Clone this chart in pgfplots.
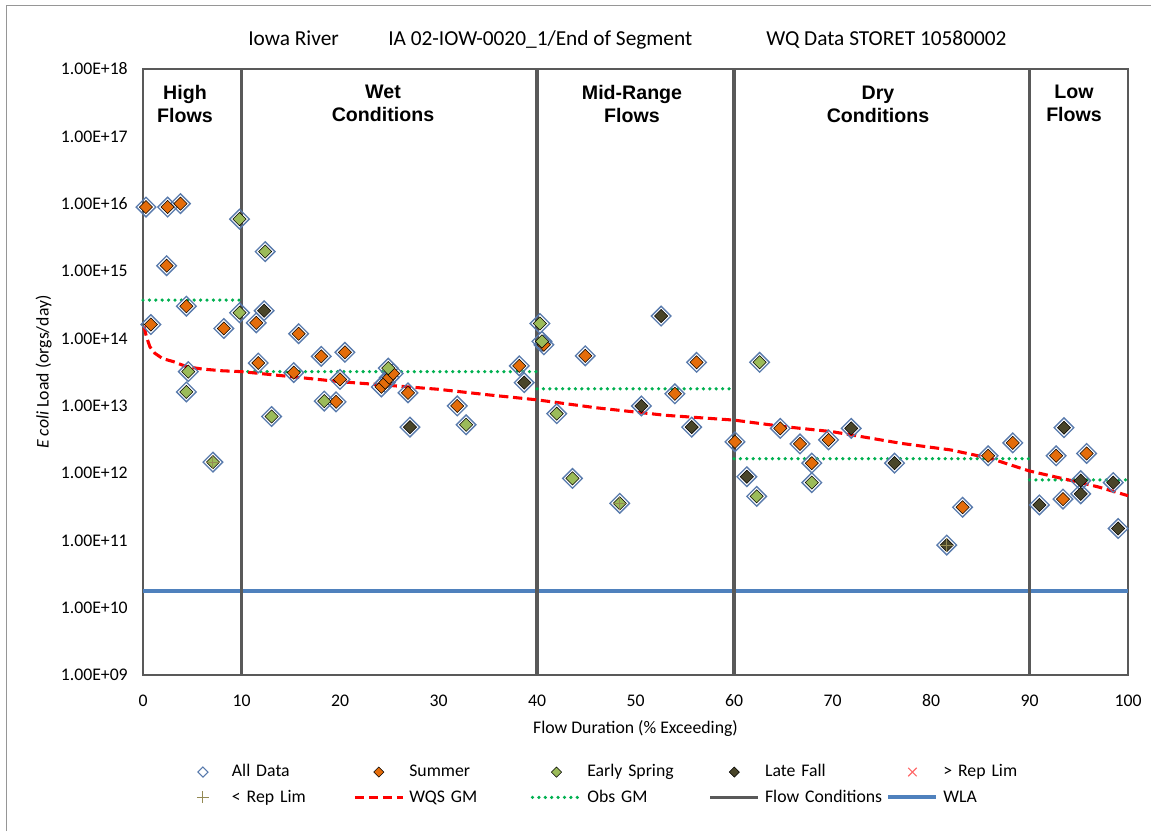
\documentclass[border=0pt]{standalone}
\usepackage{pgfplots}
\pgfplotsset{compat=1.18}
\usepackage{pgfplotstable}
\usepackage{fontspec}
\setmainfont{Carlito}
\newfontfamily\arialfont{Liberation Sans}

\definecolor{summer}{RGB}{228,108,10}
\definecolor{spring}{RGB}{155,187,89}
\definecolor{latefall}{RGB}{73,69,41}
\definecolor{alldata}{RGB}{88,122,172}
\definecolor{replim}{RGB}{148,138,84}
\definecolor{overlim}{RGB}{255,105,105}
\definecolor{wqs}{RGB}{255,0,0}
\definecolor{obs}{RGB}{0,176,80}
\definecolor{flowc}{RGB}{89,89,89}
\definecolor{wla}{RGB}{79,129,189}
\definecolor{frame}{RGB}{150,150,150}

% E. coli loads (orgs/day) against flow duration (% exceeding)
\pgfplotstableread{
x y
0.3 8.9e15
0.8 1.6e14
2.4 1.2e15
2.5 8.9e15
3.8 1.0e16
4.4 3.0e14
8.2 1.4e14
11.5 1.7e14
11.7 4.3e13
15.3 3.1e13
15.8 1.17e14
18.1 5.4e13
19.6 1.14e13
20.0 2.45e13
20.5 6.2e13
24.2 1.9e13
24.6 2.2e13
25.0 2.6e13
25.4 3.0e13
26.9 1.55e13
31.9 9.9e12
38.2 3.9e13
40.7 8.0e13
44.9 5.5e13
54.0 1.5e13
56.2 4.4e13
60.1 2.9e12
64.7 4.6e12
66.7 2.7e12
67.9 1.4e12
69.6 3.1e12
83.2 3.1e11
85.8 1.8e12
88.3 2.8e12
92.7 1.8e12
93.4 4.1e11
95.8 1.95e12
}\tblsummer

\pgfplotstableread{
x y
4.4 1.6e13
4.6 3.2e13
7.1 1.45e12
9.8 5.9e15
9.8 2.4e14
12.4 1.94e15
13.05 6.9e12
18.4 1.17e13
24.9 3.6e13
32.8 5.2e12
40.3 1.66e14
40.5 9.0e13
42.0 7.6e12
43.6 8.3e11
48.4 3.55e11
62.3 4.5e11
62.6 4.4e13
67.9 7.2e11
}\tblspring

\pgfplotstableread{
x y
12.3 2.57e14
27.1 4.8e12
38.7 2.2e13
50.6 9.9e12
52.6 2.14e14
55.7 4.8e12
61.3 8.8e11
71.9 4.6e12
76.3 1.4e12
81.6 8.5e10
91.0 3.35e11
93.5 4.7e12
95.2 7.7e11
95.2 4.9e11
98.5 7.2e11
99.0 1.5e11
}\tblfall

% samples below the reporting limit
\pgfplotstableread{
x y
7.1 1.45e12
48.4 3.55e11
81.6 8.5e10
}\tblbelow

% water quality standard geometric mean load
\pgfplotstableread{
x y
0.1 1.5e14
0.35 1.05e14
0.7 7.5e13
1.2 6.0e13
2 5.0e13
3.1 4.5e13
4.4 3.8e13
6 3.5e13
8 3.3e13
10 3.2e13
15 2.7e13
20 2.27e13
25 2.0e13
30 1.75e13
35 1.45e13
40 1.22e13
46 9.3e12
53 7.2e12
60 6.1e12
65 4.9e12
70 4.1e12
77 2.75e12
82 2.2e12
86 1.65e12
90 1.07e12
94.8 7.4e11
97 6.2e11
100 4.6e11
}\tblwqs

% observed geometric mean per flow condition
\pgfplotstableread{
x y
0 3.7e14
10 3.7e14
nan nan
10 3.2e13
40 3.2e13
nan nan
40 1.78e13
60 1.78e13
nan nan
60 1.63e12
90 1.63e12
nan nan
90 7.9e11
100 7.9e11
}\tblobs

\pgfplotstableread{
x y
10 1e9
10 1e18
nan nan
40 1e9
40 1e18
nan nan
60 1e9
60 1e18
nan nan
90 1e9
90 1e18
}\tblflow

\pgfplotstableread{
x y
0 1.78e10
100 1.78e10
}\tblwla

\tikzset{
  alldatastyle/.style={only marks, mark=square, mark size=5.2pt,
    mark options={rotate=45, draw=alldata, line width=1pt, fill=none}},
  seasonstyle/.style={only marks, mark=square*, mark size=3.5pt,
    mark options={rotate=45, fill=#1, draw=none}},
  obsline/.style={obs, line width=2.7pt, line cap=round, dash pattern=on 0pt off 4.8pt},
  wqsline/.style={wqs, line width=2.3pt, dash pattern=on 7pt off 3.5pt},
}

\begin{document}
\begin{tikzpicture}
\useasboundingbox (0,0) rectangle (863.25pt,623.25pt);
\draw[frame, line width=0.75pt] (4.875pt,0pt) -- (4.875pt,618.75pt) -- (863.25pt,618.75pt);

\begin{axis}[
  at={(107.25pt,117pt)}, anchor=south west,
  scale only axis, width=738.75pt, height=454.5pt,
  xmin=0, xmax=100, ymin=1e9, ymax=1e18, ymode=log,
  xtick={0,10,20,30,40,50,60,70,80,90,100},
  xticklabels={0,10,20,30,40,50,60,70,80,90,100},
  ytick={1e9,1e10,1e11,1e12,1e13,1e14,1e15,1e16,1e17,1e18},
  yticklabels={1.00E+09,1.00E+10,1.00E+11,1.00E+12,1.00E+13,1.00E+14,1.00E+15,1.00E+16,1.00E+17,1.00E+18},
  yminorticks=false,
  major tick length=0pt,
  tick style={draw=none},
  axis line style={draw=flowc, line width=1.5pt},
  ticklabel style={font=\fontsize{13.3}{16}\selectfont, inner sep=0pt},
  yticklabel style={anchor=east, xshift=-11.25pt},
  xticklabel style={anchor=north, yshift=-14.5pt},
  clip=false,
  unbounded coords=jump,
  legend columns=5,
  legend cell align=left,
  legend image code/.code={
    \pgfpathmoveto{\pgfqpoint{0pt}{0pt}}
    \pgfpathlineto{\pgfqpoint{36pt}{0pt}}
    \pgfusepath{discard}
    \draw[mark repeat=2,mark phase=2,#1] plot coordinates {(0pt,0pt) (18pt,0pt) (36pt,0pt)};
  },
  legend style={
    draw=none, fill=none,
    at={(0.0365,-0.147)}, anchor=north west,
    inner sep=0pt, outer sep=0pt,
    font=\fontsize{13.3}{16}\selectfont,
    row sep=7pt,
    nodes={inner sep=0pt, text height=9.5pt, text depth=2.5pt},
    /tikz/every odd column/.append style={column sep=3.75pt},
    /tikz/every even column/.append style={text width=91pt, align=left},
  },
]
% reference lines
\addplot[forget plot, wla, line width=3pt] table {\tblwla};
\addplot[forget plot, flowc, line width=2.6pt] table {\tblflow};
\addplot[forget plot, obsline] table {\tblobs};
\addplot[forget plot, wqsline] table {\tblwqs};

% every sample, then the season fill
\addplot[forget plot, alldatastyle] table {\tblsummer};
\addplot[forget plot, alldatastyle] table {\tblspring};
\addplot[forget plot, alldatastyle] table {\tblfall};
\addplot[forget plot, seasonstyle=summer] table {\tblsummer};
\addplot[forget plot, seasonstyle=spring] table {\tblspring};
\addplot[forget plot, seasonstyle=latefall] table {\tblfall};
\addplot[forget plot, only marks, mark=+, mark size=5pt, mark options={draw=replim, line width=0.8pt}] table {\tblbelow};

% legend
\addlegendimage{only marks, mark=square, mark size=2.7pt, mark options={rotate=45, draw=alldata, line width=0.8pt, fill=none}}
\addlegendentry{All Data}
\addlegendimage{only marks, mark=square*, mark size=2.7pt, mark options={rotate=45, fill=summer, draw=none}}
\addlegendentry{Summer}
\addlegendimage{only marks, mark=square*, mark size=2.7pt, mark options={rotate=45, fill=spring, draw=none}}
\addlegendentry{Early Spring}
\addlegendimage{only marks, mark=square*, mark size=2.7pt, mark options={rotate=45, fill=latefall, draw=none}}
\addlegendentry{Late Fall}
\addlegendimage{only marks, mark=x, mark size=4.5pt, mark options={draw=overlim, line width=0.8pt}}
\addlegendentry{> Rep Lim}
\addlegendimage{only marks, mark=+, mark size=4.5pt, mark options={draw=replim, line width=0.8pt}}
\addlegendentry{< Rep Lim}
\addlegendimage{wqsline}
\addlegendentry{WQS GM}
\addlegendimage{obsline}
\addlegendentry{Obs GM}
\addlegendimage{flowc, line width=2.6pt}
\addlegendentry{Flow Conditions}
\addlegendimage{wla, line width=3pt}
\addlegendentry{WLA}
\end{axis}

% title line
\begin{scope}[every node/.style={anchor=base west, inner sep=0pt, font=\fontsize{16}{19}\selectfont}]
\node at (186pt,588.75pt) {Iowa River};
\node at (291pt,588.75pt) {IA 02-IOW-0020\_1/End of Segment};
\node at (574.5pt,588.75pt) {WQ Data STORET 10580002};
\end{scope}

% flow condition names
\begin{scope}[every node/.style={anchor=north, inner sep=0pt, align=center,
    font=\arialfont\bfseries\fontsize{14.7}{17}\selectfont}]
\node at (138.75pt,559.5pt) {High\\Flows};
\node at (287.25pt,559.5pt) {Wet\\Conditions};
\node at (474pt,559.5pt) {Mid-Range\\Flows};
\node at (658.5pt,558.75pt) {Dry\\Conditions};
\node at (805.5pt,559.5pt) {Low\\Flows};
\end{scope}

% axis titles
\node[anchor=base, inner sep=0pt, font=\fontsize{13.3}{16}\selectfont] at (476.6pt,73.5pt) {Flow Duration (\% Exceeding)};
\node[rotate=90, inner sep=0pt, font=\fontsize{13.3}{16}\selectfont] at (32.8pt,344.25pt) {\textit{E coli} Load (orgs/day)};
\end{tikzpicture}
\end{document}
